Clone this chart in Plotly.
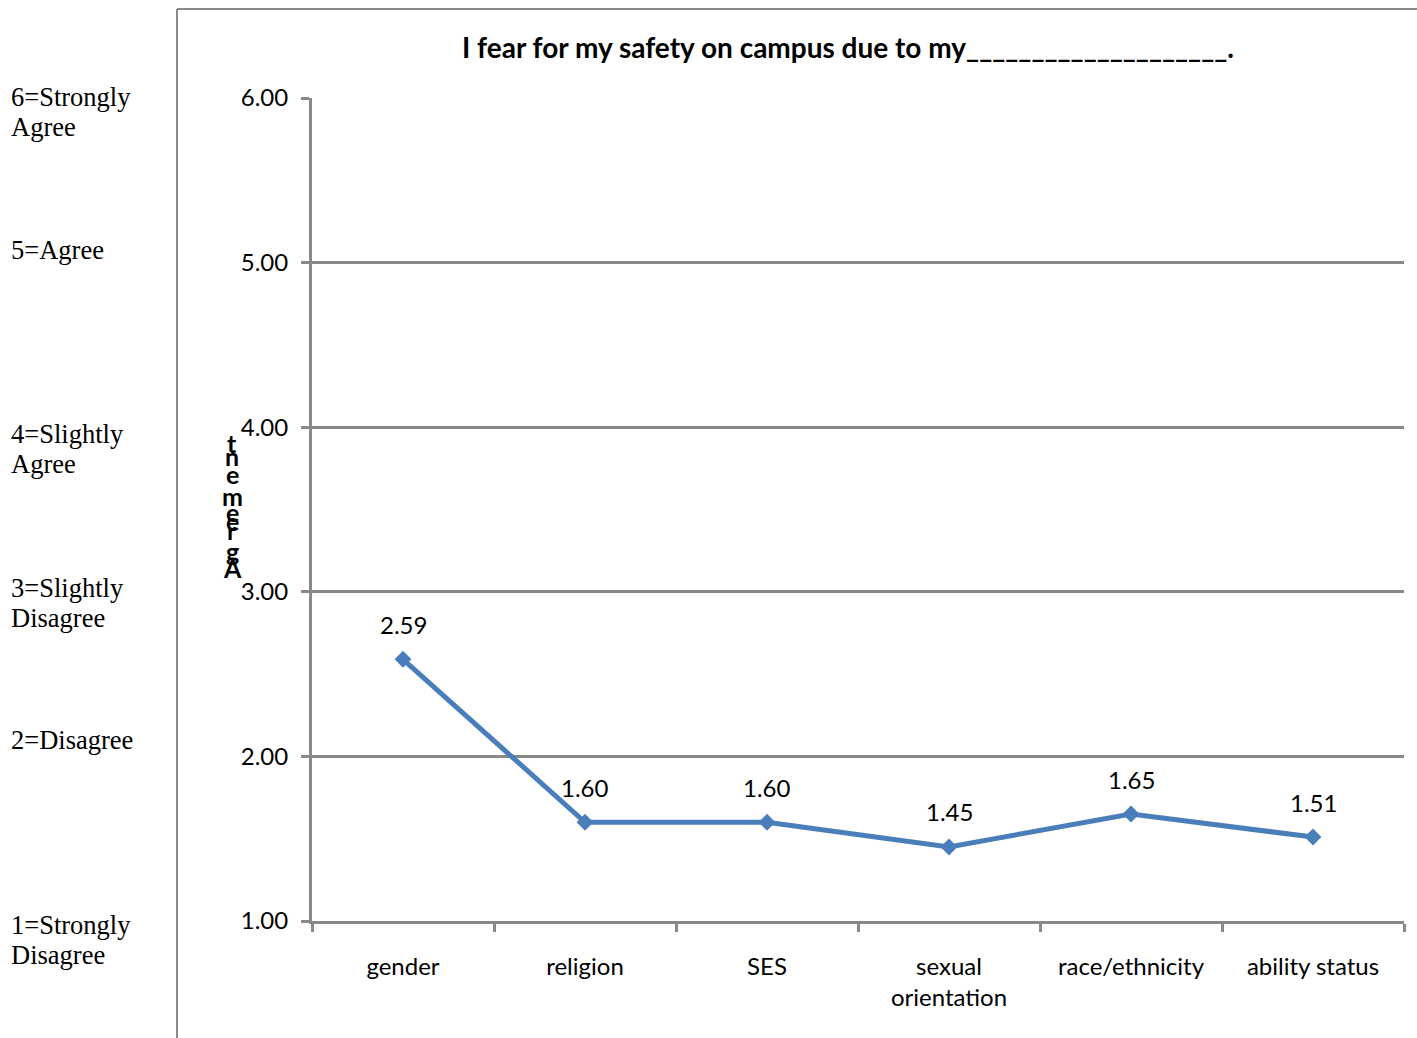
import plotly.graph_objects as go

# Survey items and mean agreement scores
categories = ["gender", "religion", "SES", "sexual orientation", "race/ethnicity", "ability status"]
category_labels = ["gender", "religion", "SES", "sexual<br>orientation", "race/ethnicity", "ability status"]
mean_scores = [2.59, 1.60, 1.60, 1.45, 1.65, 1.51]

# Response scale shown beside the chart
scale_text = [
    ["6=Strongly", "Agree"],
    ["5=Agree"],
    ["4=Slightly", "Agree"],
    ["3=Slightly", "Disagree"],
    ["2=Disagree"],
    ["1=Strongly", "Disagree"],
]
y_ticks = [1, 2, 3, 4, 5, 6]
axis_title = "Agreement"
title_text = "I fear for my safety on campus due to my" + "_" * 20 + "."

# ---- layout geometry (pixels) ----
W, H = 1417, 1038
L, R, T, B = 312, 1404, 98, 921
GRAY = "#898989"
BLUE = "#4a7ebb"
SANS = "Lato"
SERIF = "Liberation Serif"


def px_x(x):
    return (x - L) / (R - L)


def px_y(y):
    return (B - y) / (B - T)


fig = go.Figure()

fig.add_trace(go.Scatter(
    x=categories,
    y=mean_scores,
    mode="lines+markers",
    line=dict(color=BLUE, width=5),
    marker=dict(symbol="diamond", size=13, color=BLUE),
    hoverinfo="skip",
    showlegend=False,
))

annotations = []

# value labels above each point
for c, v in zip(categories, mean_scores):
    annotations.append(dict(
        x=c, y=v, xref="x", yref="y", text=f"{v:.2f}", showarrow=False,
        yshift=35, yanchor="middle", xanchor="center",
        font=dict(family=SANS, size=24, color="black"),
    ))

# response scale text on the left
scale_rows_px = [97, 250, 434, 588, 740, 925]
line_gap = 30
for lines, y0 in zip(scale_text, scale_rows_px):
    for i, line in enumerate(lines):
        annotations.append(dict(
            x=px_x(9), y=px_y(y0 + i * line_gap), xref="paper", yref="paper",
            text=line, showarrow=False, xanchor="left", yanchor="middle",
            font=dict(family=SERIF, size=26.5, color="black"),
        ))

# vertical axis title, glyphs stacked upright
letter_rows_px = [443, 456, 474, 496, 512, 521, 530, 551, 568]
for ch, y0 in zip(axis_title[::-1], letter_rows_px):
    annotations.append(dict(
        x=px_x(232), y=px_y(y0), xref="paper", yref="paper",
        text=f"<b>{ch}</b>", showarrow=False, xanchor="center", yanchor="middle",
        font=dict(family=SANS, size=25, color="black"),
    ))

shapes = [
    dict(type="line", xref="paper", yref="paper",
         x0=px_x(177), x1=px_x(177), y0=px_y(9), y1=px_y(H + 5),
         line=dict(color=GRAY, width=2)),
    dict(type="line", xref="paper", yref="paper",
         x0=px_x(177), x1=px_x(W + 5), y0=px_y(9), y1=px_y(9),
         line=dict(color=GRAY, width=2)),
]

fig.update_layout(
    width=W, height=H,
    margin=dict(l=L, r=W - R, t=T, b=H - B, pad=0),
    paper_bgcolor="white", plot_bgcolor="white",
    title=dict(
        text=f"<b>{title_text}</b>",
        x=px_x(848), xref="paper", xanchor="center",
        y=1 - 48 / H, yref="container", yanchor="middle",
        font=dict(family=SANS, size=28, color="black"),
    ),
    xaxis=dict(
        type="category", range=[-0.5, 5.5],
        tickmode="array", tickvals=categories, ticktext=category_labels,
        tickson="boundaries", ticks="outside", ticklen=8, tickwidth=3, tickcolor=GRAY,
        showline=True, linecolor=GRAY, linewidth=3, showgrid=False,
        tickfont=dict(family=SANS, size=24, color="black"),
        ticklabelstandoff=22,
    ),
    yaxis=dict(
        range=[1, 6], tickmode="array", tickvals=y_ticks, tickformat=".2f",
        ticks="outside", ticklen=8, tickwidth=3, tickcolor=GRAY,
        showline=True, linecolor=GRAY, linewidth=3,
        showgrid=True, gridcolor=GRAY, gridwidth=3, zeroline=False,
        tickfont=dict(family=SANS, size=24, color="black"),
        ticklabelstandoff=8,
    ),
    annotations=annotations,
    shapes=shapes,
)

fig.write_html("out.html")
